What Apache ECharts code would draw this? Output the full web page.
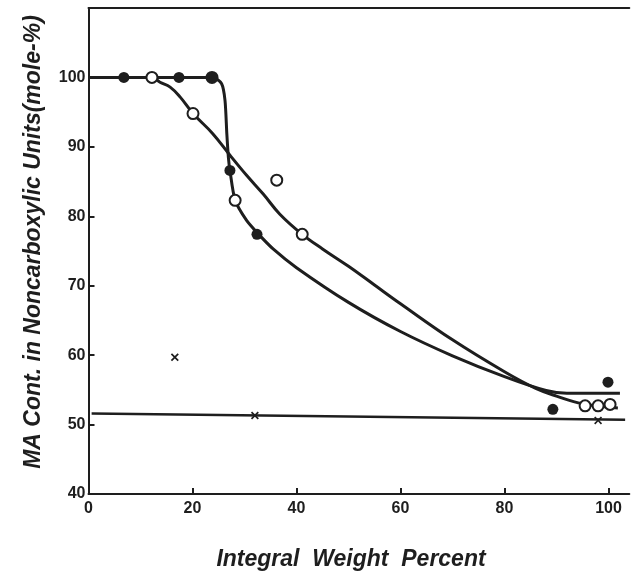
<!DOCTYPE html>
<html>
<head>
<meta charset="utf-8">
<script src="https://cdn.jsdelivr.net/npm/echarts@6/dist/echarts.min.js"></script>
<style>
html,body{margin:0;padding:0;background:#fff;}
#c{width:638px;height:574px;}
</style>
</head>
<body>
<div id="c"></div>
<script>
// ---- data ----
var xTicks = [0, 20, 40, 60, 80, 100];
var yTicks = [40, 50, 60, 70, 80, 90, 100];

// solid-circle curve (steep drop)
var curveFilled = [[0,100],[23.9,100],[25.6,99.1],[26.25,96.7],[26.6,91.9],[26.9,88.5],[27.2,86.6],[28.2,82.3],[30.4,79.4],[32.6,77.5],[35.5,75.3],[40,72.6],[50,67.6],[60,63.4],[70,59.9],[80,56.9],[88,54.9],[92,54.5],[102.2,54.5]];
// open-circle curve (gradual)
var curveOpen = [[0,100],[12.2,100],[13.75,99.3],[15.7,98.6],[17.6,97.2],[20.1,94.8],[23.9,91.9],[27.2,88.8],[30.4,85.9],[33.6,83.2],[36.8,80.3],[41.1,77.4],[45,75.3],[50,72.8],[55,70.1],[60,67.4],[70,62.2],[80,57.6],[86,55.2],[90,54.1],[95,53.0],[101.8,52.4]];
// cross-marker line
var lineCross = [[0.6,51.6],[103.2,50.7]];

var ptsFilled = [[6.8,100],[17.4,100],[27.2,86.6],[32.4,77.4],[89.3,52.2],[99.9,56.1]];
var ptsFilledBig = [[23.75,100]];
var ptsOpen = [[12.2,100],[20.1,94.8],[28.2,82.3],[36.2,85.2],[41.1,77.4],[95.5,52.7],[98.0,52.7],[100.3,52.9]];
var ptsCross = [[16.6,59.7],[32.0,51.3],[98.0,50.6]];

var INK = '#1e1e1e';
var tickFont = {fontFamily:'"Liberation Sans Narrow","Liberation Sans",Arial,sans-serif', fontWeight:'bold', fontSize:16, color:INK};
var crossPath = 'path://M0,1.5L1.5,0L5,3.5L8.5,0L10,1.5L6.5,5L10,8.5L8.5,10L5,6.5L1.5,10L0,8.5L3.5,5Z';

var chart = echarts.init(document.getElementById('c'), null, {renderer:'canvas'});
chart.setOption({
  animation:false,
  backgroundColor:'#fff',
  grid:{left:88.5, right:8.7, top:8, bottom:80},
  xAxis:[{
    type:'value', min:0, max:104, interval:20,
    axisLine:{show:true, lineStyle:{color:INK, width:2}},
    axisTick:{show:true, inside:true, length:6, customValues:xTicks, lineStyle:{color:INK, width:2}},
    axisLabel:Object.assign({customValues:xTicks, margin:7}, tickFont),
    splitLine:{show:false}
  },{
    type:'value', min:0, max:104, position:'top',
    axisLine:{show:true, onZero:false, lineStyle:{color:INK, width:2}},
    axisTick:{show:false}, axisLabel:{show:false}, splitLine:{show:false}
  }],
  yAxis:{
    type:'value', min:40, max:110, interval:10,
    axisLine:{show:true, lineStyle:{color:INK, width:2}},
    axisTick:{show:true, inside:true, length:6, customValues:yTicks, lineStyle:{color:INK, width:2}},
    axisLabel:Object.assign({customValues:yTicks, margin:3}, tickFont),
    splitLine:{show:false}
  },
  graphic:[
    {type:'text', x:34, y:242, rotation:Math.PI/2, style:{text:'MA Cont. in Noncarboxylic Units(mole-%)', font:'italic bold 23px "Liberation Sans", Arial, sans-serif', fill:INK, textAlign:'center', textVerticalAlign:'middle'}},
    {type:'text', x:351, y:560, style:{text:'Integral  Weight  Percent', font:'italic bold 23px "Liberation Sans", Arial, sans-serif', fill:INK, textAlign:'center', textVerticalAlign:'middle'}}
  ],
  series:[
    {type:'line', data:curveFilled, smooth:0.25, showSymbol:false, lineStyle:{color:INK, width:3}, z:2},
    {type:'line', data:curveOpen, smooth:0.4, showSymbol:false, lineStyle:{color:INK, width:3}, z:2},
    {type:'line', data:lineCross, showSymbol:false, lineStyle:{color:INK, width:2.5}, z:2},
    {type:'scatter', data:ptsFilled, symbol:'circle', symbolSize:11, itemStyle:{color:INK, opacity:1}, z:5},
    {type:'scatter', data:ptsFilledBig, symbol:'circle', symbolSize:13, itemStyle:{color:INK, opacity:1}, z:5},
    {type:'scatter', data:ptsOpen, symbol:'circle', symbolSize:11, itemStyle:{color:'#fff', borderColor:INK, borderWidth:2, opacity:1}, z:6},
    {type:'scatter', data:ptsCross, symbol:crossPath, symbolSize:8, itemStyle:{color:INK, opacity:1}, z:6}
  ]
});
</script>
</body>
</html>
